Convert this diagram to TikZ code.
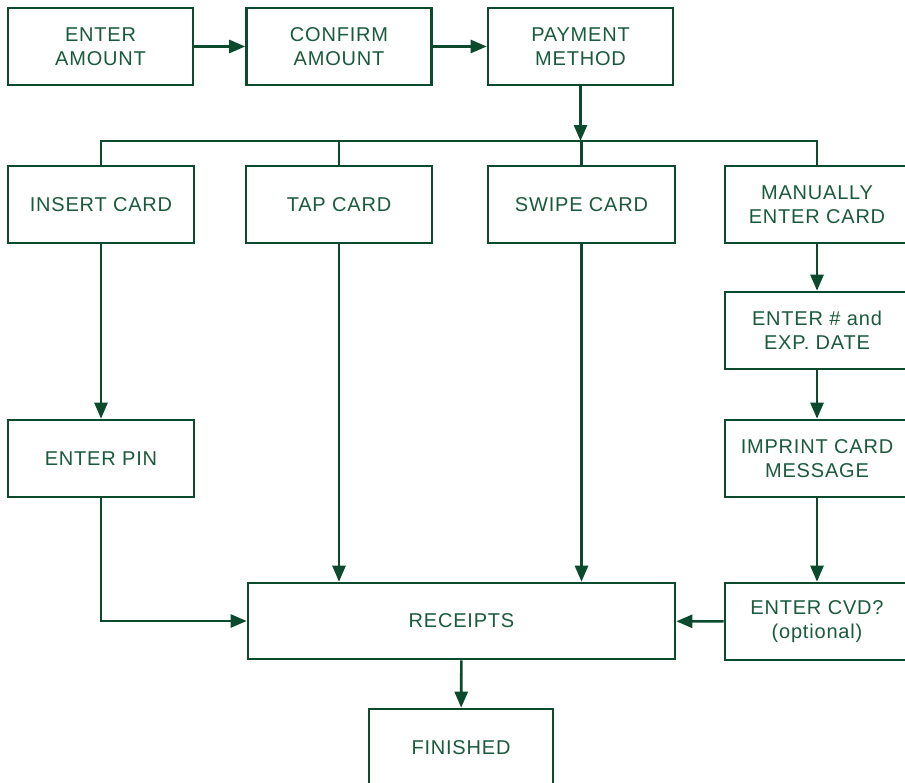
\documentclass[tikz,border=0pt]{standalone}
\usepackage{fontspec}
\setmainfont{Liberation Sans}[LetterSpace=4]
\usetikzlibrary{arrows.meta}
\definecolor{ln}{HTML}{0B4A2D}
\definecolor{tx}{HTML}{1A5A3C}
\begin{document}
\begin{tikzpicture}[x=1pt,y=-1pt,
  box/.style={draw=ln,line width=2.6pt,rectangle,minimum width=185pt,minimum height=77pt,
    align=center,text=tx,font=\fontsize{20}{24}\selectfont,inner sep=0pt},
  con/.style={draw=ln,line width=2.6pt},
  arr/.style={con,-{Triangle[length=16pt,width=13pt]}}]
\useasboundingbox (0,0) rectangle (905,782);
\node[box] (ea)  at (100.5,46.5) {ENTER\\AMOUNT};
\node[box] (ca)  at (339,46.5) {CONFIRM\\AMOUNT};
\node[box] (pm)  at (580.5,46.5) {PAYMENT\\METHOD};
\node[box,minimum width=186pt] (ic)  at (101,204.5) {INSERT CARD};
\node[box,minimum width=186pt] (tc)  at (339,204.5) {TAP CARD};
\node[box,minimum width=187pt] (sc)  at (581.5,204.5) {SWIPE CARD};
\node[box,minimum width=184pt] (mc)  at (817,204.5) {MANUALLY\\ENTER CARD};
\node[box,minimum width=184pt] (en)  at (817,330.5) {ENTER \# and\\EXP. DATE};
\node[box,minimum width=184pt] (im)  at (817,458.5) {IMPRINT CARD\\MESSAGE};
\node[box,minimum width=184pt] (cvd) at (817,621.5) {ENTER CVD?\\(optional)};
\node[box,minimum width=186pt] (pin) at (101,458.5) {ENTER PIN};
\node[box,minimum width=427pt,minimum height=76pt] (rec) at (461.5,621) {RECEIPTS};
\node[box,minimum width=184pt] (fin) at (461,747.5) {FINISHED};
\coordinate (bus) at (580.5,141);
\draw[arr] (ea) -- (ca);
\draw[arr] (ca) -- (pm);
\draw[arr] (pm.south) -- (bus);
\draw[con] (ic.north) -- (ic.north |- bus) -- (mc.north |- bus) -- (mc.north);
\draw[con] (tc.north) -- (tc.north |- bus);
\draw[con] (sc.north) -- (sc.north |- bus);
\draw[arr] (ic) -- (pin);
\draw[arr] (tc.south) -- (tc.south |- rec.north);
\draw[arr] (sc.south) -- (sc.south |- rec.north);
\draw[arr] (pin.south) |- (rec.west);
\draw[arr] (mc) -- (en);
\draw[arr] (en) -- (im);
\draw[arr] (im) -- (cvd);
\draw[arr] (cvd) -- (rec);
\draw[arr] (rec) -- (fin);
\end{tikzpicture}
\end{document}
